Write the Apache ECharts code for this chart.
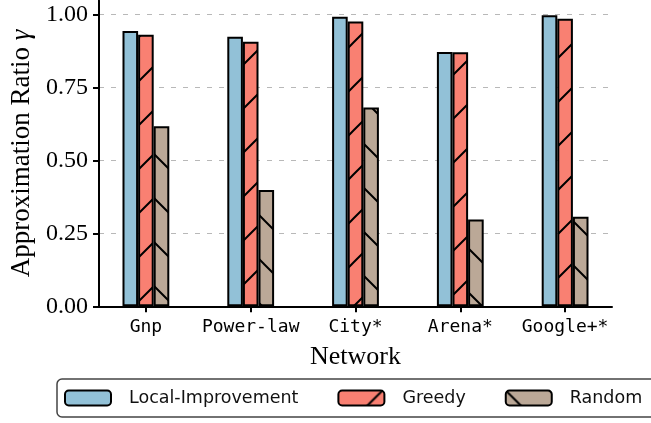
<!DOCTYPE html>
<html lang="en">
<head>
    <meta charset="UTF-8">
    <title>Approximation Ratio</title>
    <style>
        body{ margin: 0; background: #fff; }
        #main{ width: 651px; height: 423px; }
    </style>
</head>
<body>
<div id="main"></div>
<script src="https://cdn.jsdelivr.net/npm/echarts@6/dist/echarts.min.js"></script>
<script>
// networks on the x axis
const categories = ['Gnp', 'Power-law', 'City*', 'Arena*', 'Google+*'];
// approximation ratio per method
const localImprovement = [0.943, 0.923, 0.992, 0.871, 0.997];
const greedy = [0.930, 0.906, 0.975, 0.870, 0.985];
const random = [0.617, 0.398, 0.681, 0.297, 0.307];
// y tick labels
const yTicks = [0, 0.25, 0.5, 0.75, 1.0];

const xIdx = categories.map((c, i) => i);

// hatch tiles, drawn once on a small canvas
function hatch(fill, dir) {
    const s = 44;
    const c = document.createElement('canvas');
    c.width = s; c.height = s;
    const g = c.getContext('2d');
    g.fillStyle = fill;
    g.fillRect(0, 0, s, s);
    if (dir) {
        g.strokeStyle = '#000';
        g.lineWidth = 2;
        g.beginPath();
        for (const k of [-s, 0, s]) {
            if (dir === '/') {
                g.moveTo(k - 2, s + 2); g.lineTo(k + s + 2, -2);
            } else {
                g.moveTo(k - 2, -2); g.lineTo(k + s + 2, s + 2);
            }
        }
        g.stroke();
    }
    return { image: c, repeat: 'repeat' };
}

const chart = echarts.init(document.getElementById('main'));

const serif = 'Liberation Serif';

function barSeries(name, values, fill, dir) {
    return {
        name: name,
        type: 'bar',
        barWidth: 15.6,
        barGap: '0%',
        z: 3,
        data: values.map((v, i) => [xIdx[i], v]),
        itemStyle: {
            color: hatch(fill, dir),
            borderColor: '#000',
            borderWidth: 2
        }
    };
}

const option = {
    animation: false,
    grid: { left: 99, right: 39, top: 0.6, bottom: 116.7 },
    legend: {
        left: 57,
        top: 379,
        width: 640,
        padding: [10, 14, 10, 7],
        itemWidth: 46,
        itemHeight: 15,
        itemGap: 39,
        borderColor: '#444',
        borderWidth: 1.5,
        borderRadius: 5,
        textStyle: { fontFamily: 'DejaVu Sans', fontSize: 17.5, color: '#111', padding: [0, 0, 0, 13] },
        data: ['Local-Improvement', 'Greedy', 'Random']
    },
    xAxis: {
        type: 'value',
        min: -0.4475,
        max: 4.4475,
        name: 'Network',
        nameLocation: 'middle',
        nameGap: 38,
        nameTextStyle: { fontFamily: serif, fontSize: 26, color: '#000' },
        axisLine: { onZero: false, lineStyle: { color: '#000', width: 2 } },
        axisTick: { customValues: xIdx, length: 6, lineStyle: { color: '#000', width: 2 } },
        axisLabel: {
            customValues: xIdx,
            margin: 12,
            fontFamily: 'DejaVu Sans Mono',
            fontSize: 18,
            color: '#000',
            formatter: v => categories[Math.round(v)]
        },
        splitLine: { show: false }
    },
    yAxis: {
        type: 'value',
        min: 0,
        max: 1.047,
        name: 'Approximation Ratio {g|γ}',
        nameLocation: 'middle',
        nameGap: 62,
        nameTextStyle: {
            fontFamily: serif, fontSize: 27, color: '#000',
            rich: { g: { fontFamily: serif, fontSize: 27, fontStyle: 'italic', color: '#000' } }
        },
        axisLine: { show: true, onZero: false, lineStyle: { color: '#000', width: 2 } },
        axisTick: { show: true, customValues: yTicks, length: 6, lineStyle: { color: '#000', width: 2 } },
        axisLabel: {
            customValues: yTicks,
            margin: 11,
            fontFamily: serif,
            fontSize: 24,
            color: '#000',
            formatter: v => v.toFixed(2)
        },
        splitLine: { show: true, lineStyle: { color: '#b8b8b8', width: 1, type: [5, 7] } }
    },
    series: [
        barSeries('Local-Improvement', localImprovement, '#92c1d7', null),
        barSeries('Greedy', greedy, '#f98072', '/'),
        barSeries('Random', random, '#bba897', '\\')
    ]
};

chart.setOption(option);
</script>
</body>
</html>
